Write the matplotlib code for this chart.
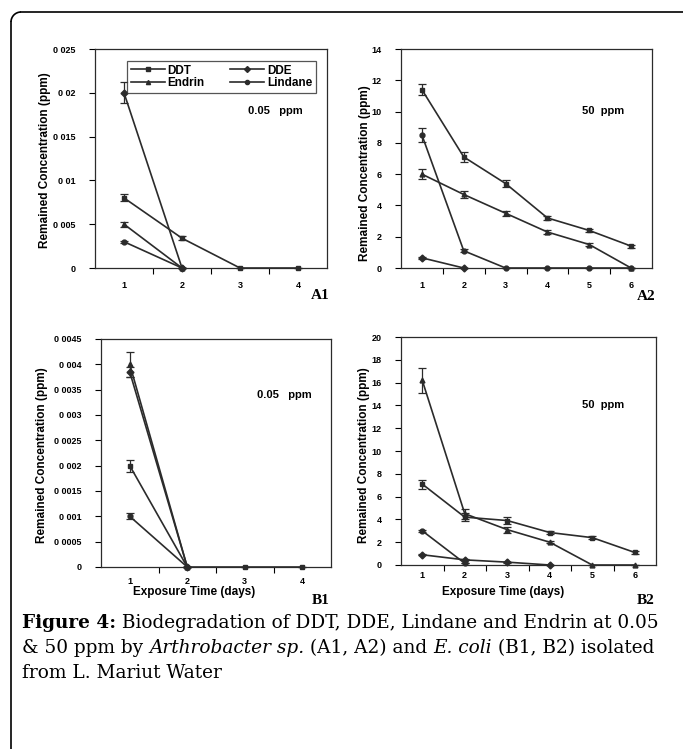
import matplotlib
matplotlib.use("Agg")
import matplotlib.pyplot as plt
from matplotlib.lines import Line2D
from matplotlib.patches import Arc

W, H = 683, 749

# ---- data ----
days4 = [1, 2, 3, 4]
days6 = [1, 2, 3, 4, 5, 6]

# A1: Arthrobacter sp., 0.05 ppm
a1_ddt = [0.008, 0.0034, 0, 0]
a1_ddt_err = [0.0004, 0.0002, 0, 0]
a1_dde = [0.020, 0]
a1_dde_err = [0.0012, 0]
a1_endrin = [0.005, 0]
a1_endrin_err = [0.0003, 0]
a1_lindane = [0.003, 0]
a1_lindane_err = [0.0001, 0]

# A2: Arthrobacter sp., 50 ppm
a2_ddt = [11.4, 7.1, 5.4, 3.2, 2.4, 1.4]
a2_ddt_err = [0.35, 0.3, 0.2, 0.15, 0.1, 0.1]
a2_lindane = [8.5, 1.1, 0, 0, 0, 0]
a2_lindane_err = [0.45, 0.1, 0, 0, 0, 0]
a2_endrin = [6.0, 4.7, 3.5, 2.3, 1.5, 0]
a2_endrin_err = [0.3, 0.2, 0.15, 0.1, 0.1, 0]
a2_dde = [0.65, 0]
a2_dde_err = [0.05, 0]

# B1: E. coli, 0.05 ppm
b1_endrin = [0.0040, 0]
b1_endrin_err = [0.00025, 0]
b1_dde = [0.00385, 0]
b1_dde_err = [0.0001, 0]
b1_ddt = [0.0020, 0, 0, 0]
b1_ddt_err = [0.00012, 0, 0, 0]
b1_lindane = [0.0010, 0]
b1_lindane_err = [0.00006, 0]

# B2: E. coli, 50 ppm
b2_endrin = [16.2, 4.5, 3.1, 2.0, 0, 0]
b2_endrin_err = [1.1, 0.45, 0.25, 0.1, 0, 0]
b2_ddt = [7.1, 4.2, 3.9, 2.85, 2.4, 1.1]
b2_ddt_err = [0.4, 0.35, 0.3, 0.15, 0.12, 0.1]
b2_lindane = [3.0, 0.15]
b2_lindane_err = [0.1, 0]
b2_dde = [0.9, 0.45, 0.25, 0.0]
b2_dde_err = [0.05, 0.05, 0.05, 0]

a1_yticks = [0, 0.005, 0.01, 0.015, 0.02, 0.025]
a1_ylabels = ["0", "0 005", "0 01", "0 015", "0 02", "0 025"]
a2_yticks = [0, 2, 4, 6, 8, 10, 12, 14]
b1_yticks = [0, 0.0005, 0.001, 0.0015, 0.002, 0.0025, 0.003, 0.0035, 0.004, 0.0045]
b1_ylabels = ["0", "0 0005", "0 001", "0 0015", "0 002", "0 0025", "0 003", "0 0035", "0 004", "0 0045"]
b2_yticks = [0, 2, 4, 6, 8, 10, 12, 14, 16, 18, 20]

SANS = "Liberation Sans"
SERIF = "DejaVu Serif"
INK = "#2b2b2b"

fig = plt.figure(figsize=(W / 100, H / 100), dpi=100)


def px_axes(l, r, t, b):
    return fig.add_axes([l / W, 1 - b / H, (r - l) / W, (b - t) / H])


def ftext(x, y, s, **kw):
    return fig.text(x / W, 1 - y / H, s, **kw)


def series(ax, x, y, err, marker):
    ax.errorbar(x[:len(y)], y, yerr=err, color=INK, lw=1.2, marker=marker,
                ms=3.5, capsize=3, elinewidth=0.9, capthick=0.9, clip_on=False, zorder=3)


def style(ax, nx, yticks, ylabels, ymax, xpad=9):
    ax.set_xlim(0.5, nx + 0.5)
    ax.set_ylim(0, ymax)
    ax.set_xticks(range(1, nx + 1))
    ax.set_xticklabels([str(i) for i in range(1, nx + 1)])
    ax.set_xticks([i + 0.5 for i in range(1, nx)], minor=True)
    ax.tick_params(axis="x", which="major", length=0, pad=xpad, labelsize=6.5)
    ax.tick_params(axis="x", which="minor", length=4, direction="out", width=0.8)
    ax.set_yticks(yticks)
    ax.set_yticklabels(ylabels)
    ax.tick_params(axis="y", length=4, direction="out", width=0.8, pad=10, labelsize=6.5)
    for lab in ax.get_xticklabels() + ax.get_yticklabels():
        lab.set_fontweight("bold")
        lab.set_fontfamily(SANS)
    for sp in ax.spines.values():
        sp.set_linewidth(0.9)
        sp.set_color(INK)


def ylab(x, y):
    ftext(x, y, "Remained Concentration (ppm)", family=SANS, weight="bold", size=8.5,
          rotation=90, ha="center", va="center")


# A1
ax = px_axes(95, 327, 49, 268)
series(ax, days4, a1_ddt, a1_ddt_err, "s")
series(ax, days4, a1_dde, a1_dde_err, "D")
series(ax, days4, a1_endrin, a1_endrin_err, "^")
series(ax, days4, a1_lindane, a1_lindane_err, "o")
style(ax, 4, a1_yticks, a1_ylabels, 0.025)
# column-wise fill: DDT/Endrin in col 1, DDE/Lindane in col 2
handles = [Line2D([], [], color=INK, lw=1.2, marker=m, ms=3)
           for m in ["s", "^", "D", "o"]]
leg = ax.legend(handles, ["DDT", "Endrin", "DDE", "Lindane"], ncol=2,
                loc="upper left", bbox_to_anchor=(32 / 232, 1 - 12 / 219),
                borderaxespad=0, frameon=True, fancybox=False, edgecolor=INK,
                handlelength=2.9, handletextpad=0.2, columnspacing=2.2,
                labelspacing=0.05, borderpad=0.3,
                prop={"family": SANS, "weight": "bold", "size": 8.5})
leg.get_frame().set_linewidth(0.9)
ftext(248, 111, "0.05   ppm", family=SANS, weight="bold", size=8, va="center")
ftext(330, 295, "A1", family="Liberation Serif", weight="bold", size=11, ha="right", va="center")
ylab(45, 160)

# A2
ax = px_axes(401, 652, 49, 268)
series(ax, days6, a2_ddt, a2_ddt_err, "s")
series(ax, days6, a2_lindane, a2_lindane_err, "o")
series(ax, days6, a2_endrin, a2_endrin_err, "^")
series(ax, days6, a2_dde, a2_dde_err, "D")
style(ax, 6, a2_yticks, [str(v) for v in a2_yticks], 14)
ftext(582, 111, "50  ppm", family=SANS, weight="bold", size=8, va="center")
ftext(655, 297, "A2", family="Liberation Serif", weight="bold", size=11, ha="right", va="center")
ylab(365, 173)

# B1
ax = px_axes(101, 331, 339, 567)
series(ax, days4, b1_endrin, b1_endrin_err, "^")
series(ax, days4, b1_dde, b1_dde_err, "D")
series(ax, days4, b1_ddt, b1_ddt_err, "s")
series(ax, days4, b1_lindane, b1_lindane_err, "o")
style(ax, 4, b1_yticks, b1_ylabels, 0.0045, xpad=7)
ftext(257, 395, "0.05   ppm", family=SANS, weight="bold", size=8, va="center")
ftext(194, 592, "Exposure Time (days)", family=SANS, weight="bold", size=8.5,
      ha="center", va="center")
ftext(330, 600, "B1", family="Liberation Serif", weight="bold", size=11, ha="right", va="center")
ylab(42, 455)

# B2
ax = px_axes(401, 656, 337, 565)
series(ax, days6, b2_endrin, b2_endrin_err, "^")
series(ax, days6, b2_ddt, b2_ddt_err, "s")
series(ax, days6, b2_lindane, b2_lindane_err, "o")
series(ax, days6, b2_dde, b2_dde_err, "D")
style(ax, 6, b2_yticks, [str(v) for v in b2_yticks], 20, xpad=4)
ftext(582, 405, "50  ppm", family=SANS, weight="bold", size=8, va="center")
ftext(503, 592, "Exposure Time (days)", family=SANS, weight="bold", size=8.5,
      ha="center", va="center")
ftext(655, 600, "B2", family="Liberation Serif", weight="bold", size=11, ha="right", va="center")
ylab(364, 455)

# outer frame: top and left edges joined by a rounded corner
r = 10
top_y = 12
left_x = 11
fig.add_artist(Line2D([(left_x + r) / W, 1.0], [1 - top_y / H] * 2,
                      color="black", lw=1.2, transform=fig.transFigure))
fig.add_artist(Line2D([left_x / W] * 2, [0, 1 - (top_y + r) / H],
                      color="black", lw=1.2, transform=fig.transFigure))
fig.add_artist(Arc(((left_x + r) / W, 1 - (top_y + r) / H), 2 * r / W, 2 * r / H,
                   theta1=90, theta2=180, color="black", lw=1.2,
                   transform=fig.transFigure))

# caption, drawn run by run
renderer = fig.canvas.get_renderer()
cap_size = 13.3
lines = [
    [("Figure 4:", "bold", "normal"),
     (" Biodegradation of DDT, DDE, Lindane and Endrin at 0.05", "normal", "normal")],
    [("& 50 ppm by ", "normal", "normal"), ("Arthrobacter sp.", "normal", "italic"),
     (" (A1, A2) and ", "normal", "normal"), ("E. coli", "normal", "italic"),
     (" (B1, B2) isolated", "normal", "normal")],
    [("from L. Mariut Water", "normal", "normal")],
]
for i, runs in enumerate(lines):
    x = 22
    y = 623 + i * 25
    for s, wt, st in runs:
        t = ftext(x, y, s, family=SERIF, weight=wt, style=st,
                  size=cap_size, va="center", ha="left")
        x += t.get_window_extent(renderer).width

fig.savefig("out.png", dpi=100)
